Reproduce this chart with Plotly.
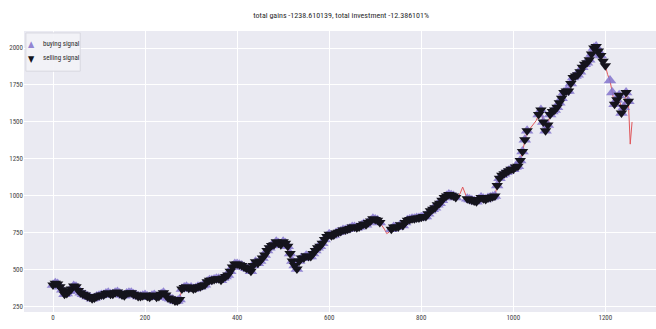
import plotly.graph_objects as go

title_text = "total gains -1238.610139, total investment -12.386101%"

days = [0, 5, 10, 15, 20, 25, 30, 35, 40, 45, 50, 55, 60, 65, 70, 75, 80, 85, 90, 95,
        100, 105, 110, 115, 120, 125, 130, 135, 140, 145, 150, 155, 160, 165, 170, 175, 180, 185, 190, 195,
        200, 205, 210, 215, 220, 225, 230, 235, 240, 245, 250, 255, 260, 265, 270, 275, 280, 285, 290, 295,
        300, 305, 310, 315, 320, 325, 330, 335, 340, 345, 350, 355, 360, 365, 370, 375, 380, 385, 390, 395,
        400, 405, 410, 415, 420, 425, 430, 435, 440, 445, 450, 455, 460, 465, 470, 475, 480, 485, 490, 495,
        500, 505, 510, 515, 520, 525, 530, 535, 540, 545, 550, 555, 560, 565, 570, 575, 580, 585, 590, 595,
        600, 605, 610, 615, 620, 625, 630, 635, 640, 645, 650, 655, 660, 665, 670, 675, 680, 685, 690, 695,
        700, 705, 710, 715, 720, 725, 730, 735, 740, 745, 750, 755, 760, 765, 770, 775, 780, 785, 790, 795,
        800, 805, 810, 815, 820, 825, 830, 835, 840, 845, 850, 855, 860, 865, 870, 875, 880, 885, 890, 895,
        900, 905, 910, 915, 920, 925, 930, 935, 940, 945, 950, 955, 960, 965, 970, 975, 980, 985, 990, 995,
        1000, 1005, 1010, 1015, 1020, 1025, 1030, 1035, 1040, 1045, 1050, 1055, 1060, 1065, 1070, 1075,
        1080, 1085, 1090, 1095, 1100, 1105, 1110, 1115, 1120, 1125, 1130, 1135, 1140, 1145, 1150, 1155,
        1160, 1165, 1170, 1175, 1180, 1185, 1190, 1195, 1200, 1205, 1210, 1215, 1220, 1225, 1230, 1235,
        1240, 1245, 1250, 1254, 1258]

close = [398, 410, 405, 385, 365, 335, 340, 355, 370, 390, 385, 360, 345, 335, 330, 320, 315, 305, 310, 320,
         325, 330, 330, 340, 345, 335, 335, 345, 350, 340, 330, 325, 340, 345, 345, 335, 330, 320, 320, 325,
         330, 320, 315, 325, 330, 315, 320, 335, 345, 330, 310, 305, 300, 290, 290, 300, 370, 380, 385, 375,
         380, 370, 375, 385, 385, 395, 400, 420, 430, 430, 435, 440, 440, 430, 445, 455, 465, 490, 520, 540,
         540, 535, 530, 520, 510, 505, 490, 530, 555, 545, 560, 580, 600, 630, 650, 665, 670, 690, 680, 670,
         690, 680, 660, 610, 560, 530, 505, 560, 580, 580, 595, 590, 590, 610, 630, 650, 660, 680, 705, 725,
         740, 730, 735, 750, 755, 760, 770, 770, 775, 780, 790, 790, 785, 790, 800, 810, 805, 820, 830, 845,
         840, 835, 820, 800, 775, 745, 755, 775, 790, 790, 790, 805, 800, 820, 835, 840, 845, 845, 850, 850,
         855, 860, 860, 880, 900, 910, 920, 940, 950, 970, 990, 1000, 1010, 1005, 1000, 990, 990, 1020, 1060, 1020,
         980, 975, 970, 965, 960, 975, 990, 980, 975, 985, 990, 995, 1000, 1070, 1120, 1140, 1150, 1160, 1170, 1180,
         1180, 1195, 1200, 1240, 1300, 1380, 1440, 1450, 1470, 1490, 1510, 1550, 1580, 1500, 1440, 1480,
         1550, 1570, 1580, 1600, 1630, 1660, 1700, 1710, 1710, 1760, 1800, 1810, 1820, 1840, 1870, 1890,
         1900, 1920, 1960, 2000, 2010, 1980, 1950, 1910, 1880, 1820, 1780, 1700, 1620, 1650, 1680, 1560,
         1600, 1700, 1640, 1350, 1500]

# days that carry no buying / selling marker (only the price line shows there)
no_buy_days = [715, 720, 725, 730, 880, 885, 890, 895, 1035, 1040, 1045, 1050, 1195, 1200, 1205, 1254, 1258]
no_sell_days = [715, 720, 725, 730, 880, 885, 890, 895, 1035, 1040, 1045, 1050, 1205, 1210, 1215, 1254, 1258]

y_ticks = [250, 500, 750, 1000, 1250, 1500, 1750, 2000]
x_ticks = [0, 200, 400, 600, 800, 1000, 1200]
legend_labels = ["buying signal", "selling signal"]

lookup = dict(zip(days, close))
buy_days = [d for d in days if d not in no_buy_days]
sell_days = [d for d in days if d not in no_sell_days]
buy_vals = [lookup[d] for d in buy_days]
sell_vals = [lookup[d] for d in sell_days]

FONT = "Liberation Sans Narrow, Roboto Condensed, DejaVu Sans Condensed, Liberation Sans, sans-serif"
BUY_COLOR = "rgba(130,115,205,0.85)"
SELL_COLOR = "#15141c"

fig = go.Figure()
fig.add_trace(go.Scatter(x=days, y=close, mode="lines",
                         line=dict(color="#e0575b", width=1), showlegend=False, hoverinfo="skip"))
fig.add_trace(go.Scatter(x=buy_days, y=buy_vals, mode="markers", name=legend_labels[0], showlegend=False,
                         marker=dict(symbol="triangle-up", size=11, color=BUY_COLOR, line=dict(width=0))))
fig.add_trace(go.Scatter(x=sell_days, y=sell_vals, mode="markers", name=legend_labels[1], showlegend=False,
                         marker=dict(symbol="triangle-down", size=10, color=SELL_COLOR, line=dict(width=0))))

# compact legend box (upper left)
fig.add_shape(type="rect", xref="paper", yref="paper", x0=0.003, x1=0.089, y0=0.857, y1=0.993,
              fillcolor="rgba(242,242,247,0.92)", line=dict(color="#d8d8e0", width=1), layer="above")
fig.add_annotation(xref="paper", yref="paper", x=0.0115, y=0.952, text="▲", showarrow=False,
                   font=dict(size=9, color=BUY_COLOR), xanchor="center", yanchor="middle")
fig.add_annotation(xref="paper", yref="paper", x=0.0115, y=0.902, text="▼", showarrow=False,
                   font=dict(size=9, color=SELL_COLOR), xanchor="center", yanchor="middle")
fig.add_annotation(xref="paper", yref="paper", x=0.027, y=0.954, text=legend_labels[0], showarrow=False,
                   font=dict(family=FONT, size=7, color="#2a2a2a"), xanchor="left", yanchor="middle")
fig.add_annotation(xref="paper", yref="paper", x=0.027, y=0.904, text=legend_labels[1], showarrow=False,
                   font=dict(family=FONT, size=7, color="#2a2a2a"), xanchor="left", yanchor="middle")

fig.update_layout(
    width=656, height=329,
    margin=dict(l=24, r=0, t=31, b=17),
    paper_bgcolor="white",
    plot_bgcolor="#eaeaf2",
    showlegend=False,
    font=dict(family=FONT, size=7, color="#444444"),
    title=dict(text=title_text, x=0.52, xanchor="center", y=0.955, yanchor="middle",
               font=dict(family=FONT, size=8, color="#2a2a2a")),
    xaxis=dict(range=[-63, 1310], tickvals=x_ticks, showgrid=True, gridcolor="white", gridwidth=1,
               zeroline=False, showline=False, ticks="", tickfont=dict(size=7, color="#444444")),
    yaxis=dict(range=[215, 2115], tickvals=y_ticks, showgrid=True, gridcolor="white", gridwidth=1,
               zeroline=False, showline=False, ticks="", tickfont=dict(size=7, color="#444444")),
)

fig.write_html("out.html")
